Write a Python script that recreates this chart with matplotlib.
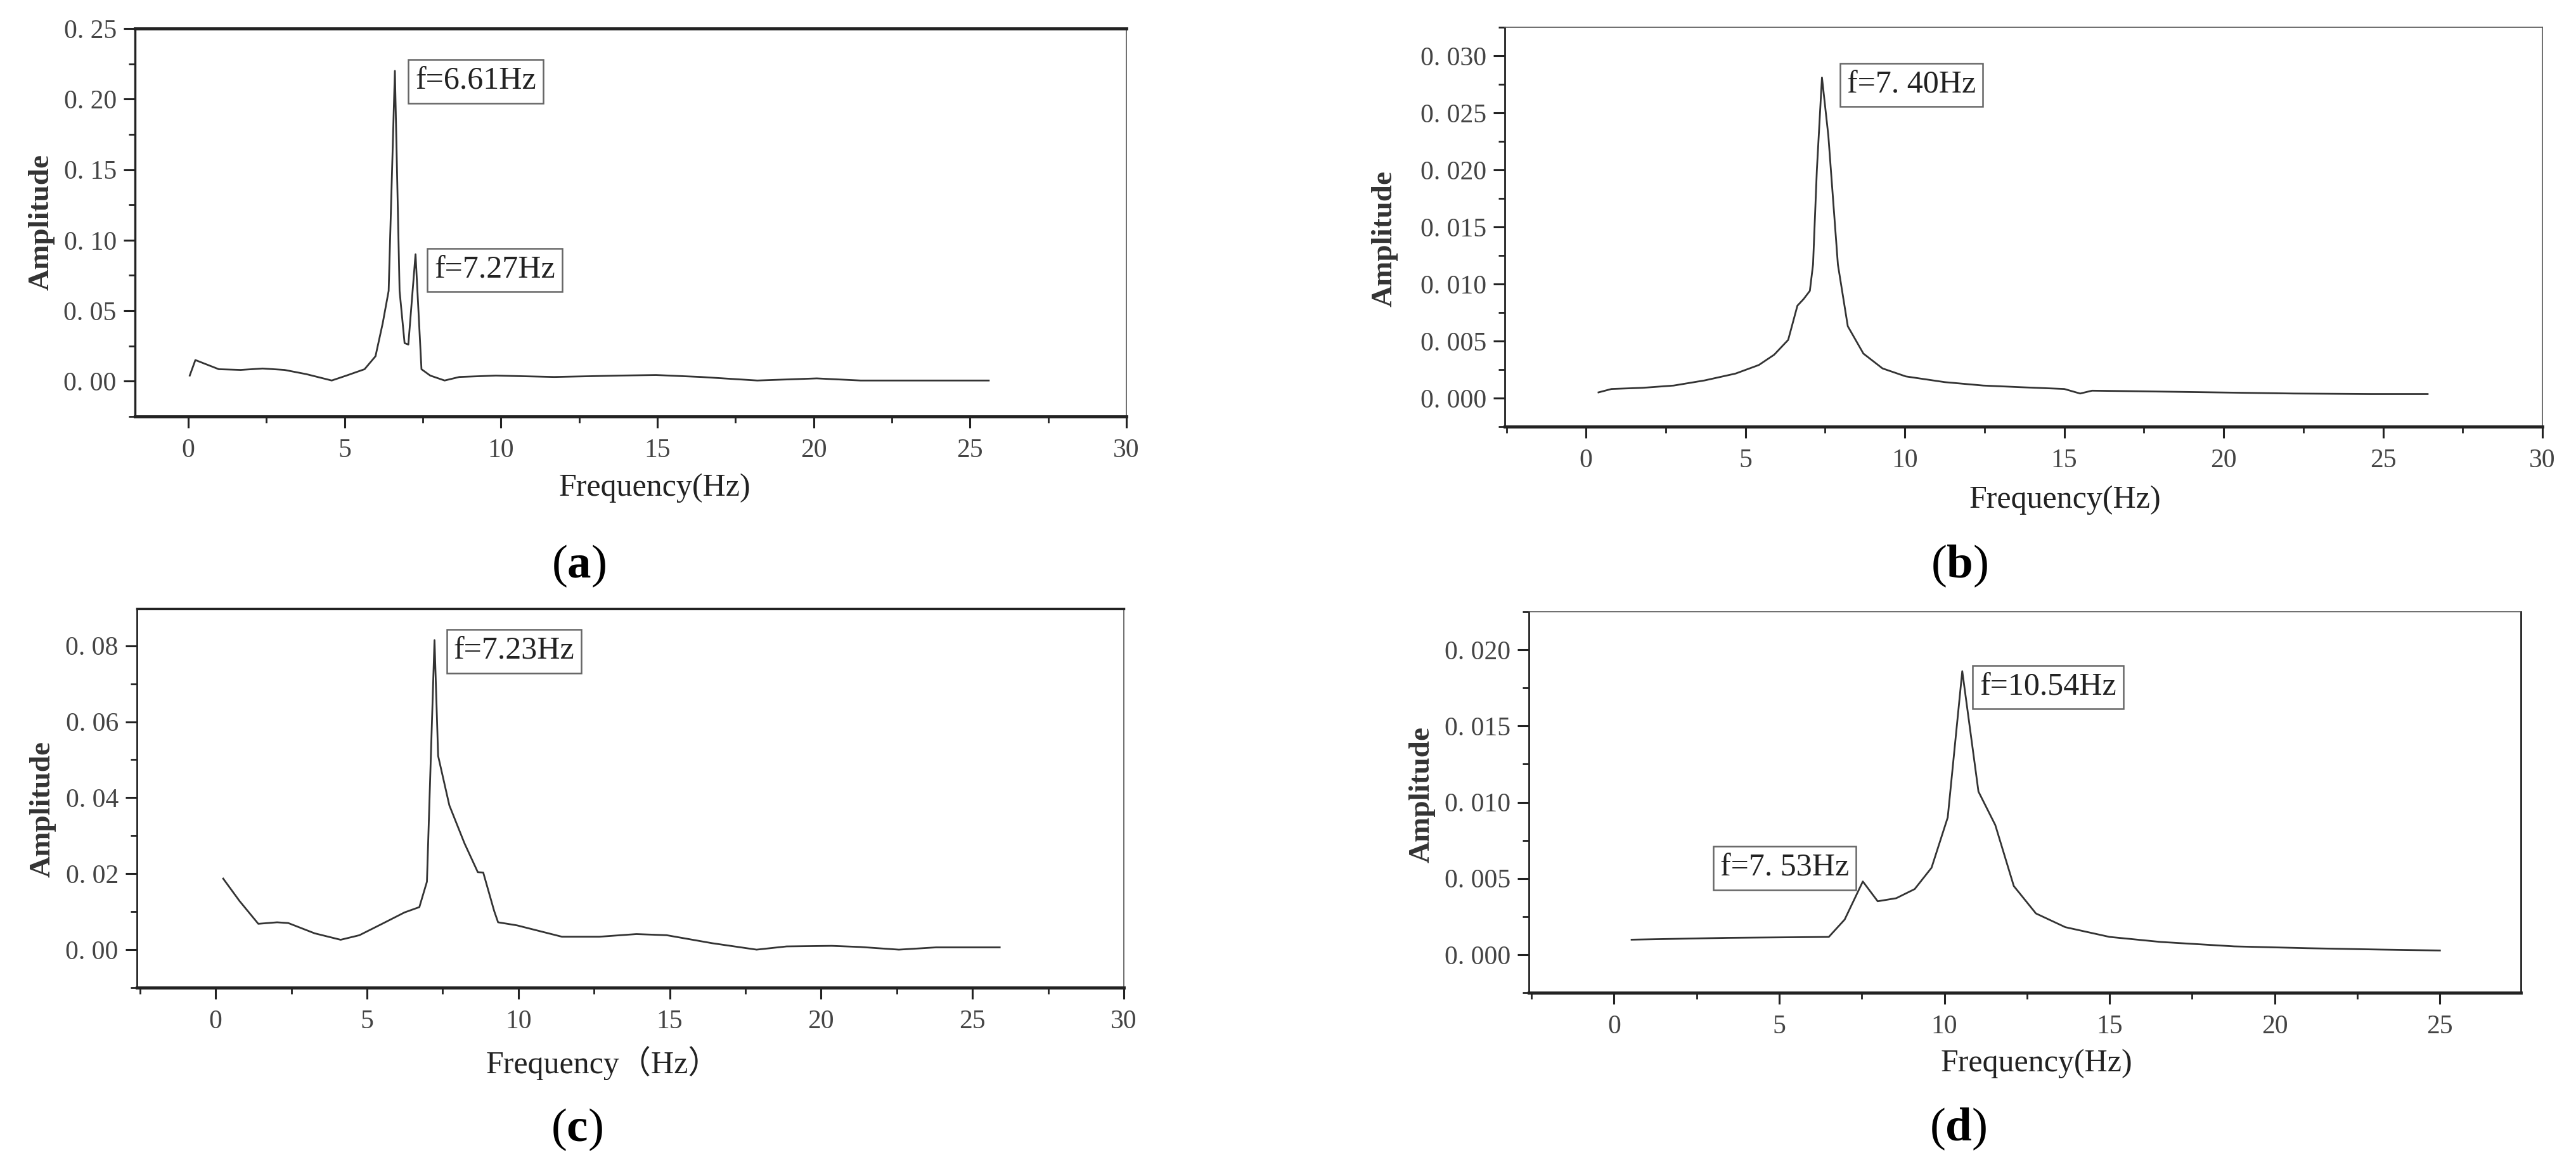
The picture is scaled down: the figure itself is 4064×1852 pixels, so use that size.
import matplotlib
matplotlib.use("Agg")
import matplotlib.pyplot as plt
from matplotlib.ticker import MultipleLocator, FuncFormatter

plt.rcParams['font.family'] = ['Liberation Serif', 'Noto Sans CJK SC', 'DejaVu Sans']
plt.rcParams['mathtext.fontset'] = 'custom'
plt.rcParams['mathtext.rm'] = 'Liberation Serif'
plt.rcParams['mathtext.bf'] = 'Liberation Serif:bold'

# ---------------- data ----------------
freq_a = [0.05, 0.23, 0.98, 1.68, 2.38, 3.08, 3.78, 4.59, 5.06, 5.64, 5.99, 6.22, 6.41, 6.61,
          6.76, 6.92, 7.04, 7.27, 7.46, 7.74, 8.2, 8.67, 9.84, 11.7, 13.8, 14.96, 16.4, 18.2,
          20.1, 21.5, 25.6]
amp_a = [0.004, 0.015, 0.0085, 0.008, 0.009, 0.008, 0.005, 0.0005, 0.004, 0.0085, 0.0177, 0.041,
         0.064, 0.22, 0.064, 0.027, 0.026, 0.09, 0.0085, 0.004, 0.0005, 0.003, 0.004, 0.003,
         0.004, 0.0044, 0.003, 0.0005, 0.002, 0.0005, 0.0005]

freq_b = [0.39, 0.80, 1.77, 2.75, 3.72, 4.69, 5.42, 5.90, 6.34, 6.63, 6.83, 7.02, 7.12, 7.24,
          7.40, 7.60, 7.90, 8.21, 8.70, 9.30, 10.03, 11.25, 12.46, 13.68, 15.0, 15.5, 15.87,
          17.3, 19.75, 22.2, 24.6, 26.4]
amp_b = [0.0005, 0.0008, 0.0009, 0.0011, 0.00155, 0.00215, 0.0029, 0.0038, 0.0051, 0.0081,
         0.0087, 0.0094, 0.0117, 0.020, 0.0281, 0.023, 0.0117, 0.0063, 0.0039, 0.0026, 0.0019,
         0.0014, 0.0011, 0.00095, 0.0008, 0.0004, 0.00065, 0.0006, 0.0005, 0.0004, 0.00036,
         0.00036]

freq_c = [0.25, 0.79, 1.41, 2.03, 2.4, 3.27, 4.13, 4.75, 5.5, 6.24, 6.73, 6.98, 7.23, 7.35,
          7.72, 8.22, 8.66, 8.84, 9.2, 9.33, 9.95, 11.44, 12.67, 13.9, 14.9, 16.4, 17.87, 18.86,
          20.35, 21.3, 22.57, 23.8, 25.9]
amp_c = [0.0187, 0.0128, 0.0068, 0.0072, 0.007, 0.0043, 0.0026, 0.0038, 0.0068, 0.0098, 0.0112,
         0.0179, 0.0815, 0.051, 0.038, 0.028, 0.0204, 0.0203, 0.0102, 0.0072, 0.0064, 0.0034,
         0.0034, 0.0041, 0.0038, 0.0017, 0.0, 0.00085, 0.001, 0.0007, 0.0, 0.0006, 0.0006]

freq_d = [0.53, 3.43, 6.5, 6.98, 7.53, 7.98, 8.54, 9.1, 9.61, 10.1, 10.54, 11.03, 11.54, 12.1,
          12.77, 13.66, 15.0, 16.55, 18.77, 21.0, 23.2, 25.0]
amp_d = [0.00098, 0.0011, 0.00116, 0.0023, 0.0048, 0.0035, 0.0037, 0.0043, 0.0057, 0.009,
         0.0186, 0.0107, 0.0085, 0.0045, 0.0027, 0.0018, 0.00116, 0.00083, 0.00054, 0.00042,
         0.00033, 0.00027]

labels_a = ["f=6.61Hz", "f=7.27Hz"]
labels_b = ["f=7. 40Hz"]
labels_c = ["f=7.23Hz"]
labels_d = ["f=10.54Hz", "f=7. 53Hz"]
captions = ["a", "b", "c", "d"]
xlabels = ["Frequency(Hz)", "Frequency(Hz)", "Frequency\uff08Hz\uff09", "Frequency(Hz)"]

# ---------------- layout ----------------
W, H = 4064, 1852
fig = plt.figure(figsize=(W / 100, H / 100), dpi=100)

def px_axes(l, t, r, b):
    return [l / W, 1 - b / H, (r - l) / W, (b - t) / H]

panels = [
    dict(rect=px_axes(213, 45, 1777, 657), x=freq_a, y=amp_a, xlim=(-1.7, 30), ylim=(-0.025, 0.25),
         ymaj=0.05, dec=2, spines=dict(top=3.5, bottom=3.5, left=2.5, right=1.2),
         notes=list(zip(labels_a, [(9.2, 0.2125), (9.8, 0.0787)])),
         xlab=(0.524, -0.147), ylab=(-0.081, 0.5), cap=(913, 893)),
    dict(rect=px_axes(2374, 43, 4011, 673), x=freq_b, y=amp_b, xlim=(-2.55, 30), ylim=(-0.0025, 0.0325),
         ymaj=0.005, dec=3, spines=dict(top=1.2, bottom=3.5, left=2.0, right=1.2),
         notes=list(zip(labels_b, [(10.2, 0.02745)])),
         xlab=(0.54, -0.147), ylab=(-0.103, 0.47), cap=(3091, 893)),
    dict(rect=px_axes(216, 960, 1773, 1558), x=freq_c, y=amp_c, xlim=(-2.6, 30), ylim=(-0.01, 0.0898),
         ymaj=0.02, dec=2, spines=dict(top=2.5, bottom=3.5, left=2.0, right=1.2),
         notes=list(zip(labels_c, [(9.86, 0.0785)])),
         xlab=(0.472, -0.155), ylab=(-0.082, 0.47), cap=(910, 1782)),
    dict(rect=px_axes(2412, 965, 3977, 1566), x=freq_d, y=amp_d, xlim=(-2.58, 27.45), ylim=(-0.0025, 0.0225),
         ymaj=0.005, dec=3, spines=dict(top=1.2, bottom=3.5, left=2.0, right=2.0),
         notes=list(zip(labels_d, [(13.14, 0.01755), (5.16, 0.00568)])),
         xlab=(0.512, -0.147), ylab=(-0.094, 0.52), cap=(3089, 1781)),
]

line_col = '#333333'
for i, p in enumerate(panels):
    ax = fig.add_axes(p['rect'])
    ax.plot(p['x'], p['y'], color=line_col, lw=2.0)
    ax.set_xlim(*p['xlim'])
    ax.set_ylim(*p['ylim'])
    ax.xaxis.set_major_locator(MultipleLocator(5))
    ax.xaxis.set_minor_locator(MultipleLocator(2.5))
    ax.yaxis.set_major_locator(MultipleLocator(p['ymaj']))
    ax.yaxis.set_minor_locator(MultipleLocator(p['ymaj'] / 2))
    dec = p['dec']
    ax.yaxis.set_major_formatter(FuncFormatter(lambda v, pos, d=dec: f"{v:.{d}f}".replace('.', '. ')))
    ax.xaxis.set_major_formatter(FuncFormatter(lambda v, pos: f"{v:g}"))
    ax.tick_params(axis='both', which='major', direction='out', length=13, width=2.2,
                   labelsize=30, colors='#222222', labelcolor='#444444')
    ax.tick_params(axis='x', which='major', pad=12)
    ax.tick_params(axis='y', which='major', pad=8)
    ax.tick_params(axis='both', which='minor', direction='out', length=7, width=2.0, colors='#222222')
    for side, lw in p['spines'].items():
        ax.spines[side].set_linewidth(lw)
        ax.spines[side].set_color('#222222' if lw > 1.5 else '#555555')
    ax.set_xlabel(xlabels[i], fontsize=36, color='#222222')
    ax.xaxis.set_label_coords(*p['xlab'])
    ax.set_ylabel('Amplitude', fontsize=34, fontweight='bold', color='#333333')
    ax.yaxis.set_label_coords(*p['ylab'])
    for text, (tx, ty) in p['notes']:
        ax.text(tx, ty, text, ha='center', va='center', fontsize=36, color='#222222',
                bbox=dict(boxstyle='square,pad=0.22', fc='white', ec='#666666', lw=1.8))
    cx, cy = p['cap']
    fig.text(cx / W, 1 - cy / H, r"($\mathbf{" + captions[i] + r"}$)", ha='center', va='center',
             fontsize=54, color='black')

fig.savefig('out.png', dpi=100, facecolor='white')
